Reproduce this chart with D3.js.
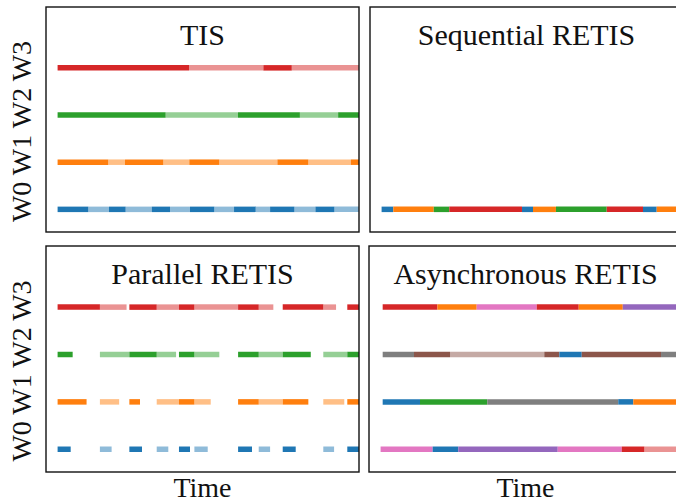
<!DOCTYPE html>
<html>
<head>
<meta charset="utf-8">
<script src="https://cdn.jsdelivr.net/npm/d3@7"></script>
<style>
  body { margin: 0; background: #fff; }
</style>
</head>
<body>
<div class="fig"></div>
<script>
// ensemble colours (tab10 order)
var ensembleColors = ["#1f77b4", "#ff7f0e", "#2ca02c", "#d62728", "#9467bd", "#8c564b", "#e377c2", "#7f7f7f"];
var workers = ["W0", "W1", "W2", "W3"];
var titles = ["TIS", "Sequential RETIS", "Parallel RETIS", "Asynchronous RETIS"];

// TIS: each worker runs its own ensemble, phases alternate (dark, light, dark, ...)
var tisW0 = [0, 2.65, 4.43, 5.87, 8.12, 9.7, 11.42, 13.52, 15.22, 17.09, 18.33, 20.43, 22.24, 23.88, 27];
var tisW1 = [0, 4.37, 5.81, 9.12, 11.36, 13.95, 18.96, 21.63, 25.3, 27];
var tisW2 = [0, 9.32, 15.56, 20.9, 24.2, 27];
var tisW3 = [0, 11.34, 17.75, 20.2, 27];

// Sequential RETIS: one worker, ensembles one after another
var seqBreaks = [0, 1.01, 4.5, 5.84, 12.11, 13.06, 15.04, 19.42, 22.55, 23.73, 27];
var seqEns = [0, 1, 2, 3, 0, 1, 2, 3, 0, 1];

// Parallel RETIS: shared cycle starts, each worker stops at its own end time
var parStarts = [0, 3.65, 6.19, 8.55, 10.47, 11.8, 15.57, 17.35, 19.42, 22.92, 24.99];
var parEndW0 = [1.13, 4.66, 7.28, 9.55, 11.42, 12.95, 16.77, 18.33, 20.54, 23.85, 27];
var parEndW1 = [2.5, 5.31, 7.11, 10.47, 11.8, 13.21, 17.35, 19.42, 21.63, 24.73, 27];
var parEndW2 = [1.3, 6.19, 8.55, 10.22, 11.8, 13.95, 17.35, 19.42, 21.84, 24.99, 27];
var parEndW3 = [3.65, 5.95, 8.55, 10.47, 11.8, 15.57, 17.35, 18.61, 22.92, 24.02, 27];

// Asynchronous RETIS: [start, end, ensemble, light]
var asyW0 = [[0, 4.49, 6, 0], [4.49, 6.7, 0, 0], [6.7, 15.28, 4, 0], [15.28, 20.8, 6, 0], [20.8, 22.75, 3, 0], [22.75, 27, 3, 1]];
var asyW1 = [[0.18, 3.4, 0, 0], [3.4, 9.2, 2, 0], [9.2, 20.5, 7, 0], [20.5, 21.8, 0, 0], [21.8, 27, 1, 0]];
var asyW2 = [[0.18, 2.88, 7, 0], [2.88, 5.99, 5, 0], [5.99, 14.12, 5, 1], [14.12, 15.42, 5, 0], [15.42, 17.35, 0, 0], [17.35, 24.19, 5, 0], [24.19, 27, 7, 0]];
var asyW3 = [[0.18, 4.9, 3, 0], [4.9, 8.29, 1, 0], [8.29, 13.47, 6, 0], [13.47, 17.09, 3, 0], [17.09, 20.89, 1, 0], [20.89, 27, 4, 0]];

// turn the arrays into segment lists {w, t0, t1, e, light}
function alternating(breaks, w){
  var out = [];
  for (var i = 0; i < breaks.length - 1; i++)
    out.push({w: w, t0: breaks[i], t1: breaks[i+1], e: w, light: i % 2});
  return out;
}
var tisSegs = [].concat(alternating(tisW0, 0), alternating(tisW1, 1), alternating(tisW2, 2), alternating(tisW3, 3));

var seqSegs = seqEns.map(function(e, i){ return {w: 0, t0: seqBreaks[i], t1: seqBreaks[i+1], e: e, light: 0}; });

var parSegs = [];
[parEndW0, parEndW1, parEndW2, parEndW3].forEach(function(ends, w){
  ends.forEach(function(end, i){ parSegs.push({w: w, t0: parStarts[i], t1: end, e: w, light: i % 2}); });
});

var asySegs = [];
[asyW0, asyW1, asyW2, asyW3].forEach(function(rows, w){
  rows.forEach(function(r){ asySegs.push({w: w, t0: r[0], t1: r[1], e: r[2], light: r[3]}); });
});

var allSegs = [tisSegs, seqSegs, parSegs, asySegs];

var width = 676, height = 504;
var font = "'Liberation Serif', 'Times New Roman', serif";
var panels = [
  {x: 46, y: 7, w: 313, h: 225},
  {x: 370, y: 7, w: 313, h: 225},
  {x: 46, y: 246, w: 313, h: 226},
  {x: 369, y: 246, w: 313, h: 226}
];

var svg = d3.select(".fig").append("svg")
  .attr("width", width)
  .attr("height", height)
  .style("display", "block");

var color = d3.scaleOrdinal().domain(d3.range(8)).range(ensembleColors);

panels.forEach(function(p, k){
  var xScale = d3.scaleLinear().domain([-1, 26]).range([p.x, p.x + p.w]);
  var yScale = d3.scaleLinear().domain([-0.48, 4.29]).range([p.y + p.h, p.y]);

  svg.append("clipPath").attr("id", "clip" + k)
    .append("rect").attr("x", p.x).attr("y", p.y).attr("width", p.w).attr("height", p.h);

  svg.append("g").attr("clip-path", "url(#clip" + k + ")")
    .selectAll("line")
    .data(allSegs[k])
    .enter()
    .append("line")
    .attr("x1", function(d){ return xScale(d.t0); })
    .attr("x2", function(d){ return xScale(d.t1); })
    .attr("y1", function(d){ return yScale(d.w); })
    .attr("y2", function(d){ return yScale(d.w); })
    .attr("stroke", function(d){ return color(d.e); })
    .attr("stroke-opacity", function(d){ return d.light ? 0.5 : 1; })
    .attr("stroke-width", 5.5);

  // frame
  svg.append("rect")
    .attr("x", p.x).attr("y", p.y).attr("width", p.w).attr("height", p.h)
    .attr("fill", "none").attr("stroke", "#111").attr("stroke-width", 1.4);

  svg.append("text")
    .text(titles[k])
    .attr("x", p.x + p.w / 2)
    .attr("y", p.y + 38)
    .attr("text-anchor", "middle")
    .attr("font-family", font)
    .attr("font-size", 30)
    .attr("fill", "#111");

  if (k % 2 === 0) {
    svg.append("text")
      .text(workers.join(" "))
      .attr("transform", "translate(31," + (p.y + p.h / 2 + 12) + ") rotate(-90)")
      .attr("text-anchor", "middle")
      .attr("font-family", font)
      .attr("font-size", 28)
      .attr("fill", "#111");
  }
  if (k >= 2) {
    svg.append("text")
      .text("Time")
      .attr("x", p.x + p.w / 2)
      .attr("y", 497)
      .attr("text-anchor", "middle")
      .attr("font-family", font)
      .attr("font-size", 28)
      .attr("fill", "#111");
  }
});
</script>
</body>
</html>
